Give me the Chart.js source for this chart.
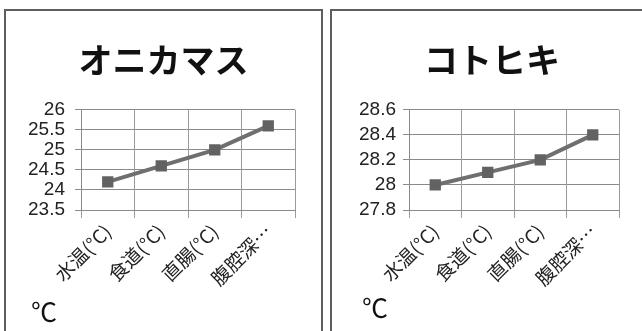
<!DOCTYPE html>
<html>
<head>
<meta charset="utf-8">
<script src="https://cdn.jsdelivr.net/npm/chart.js@4.4.0/dist/chart.umd.min.js"></script>
<style>
  body { margin: 0; width: 642px; height: 331px; overflow: hidden; background: #fff; }
  .panel { position: absolute; top: 9px; height: 340px; border: 2px solid #5e5e5e; box-sizing: border-box; }
  #panel1 { left: 4px; width: 319px; }
  #panel2 { left: 330px; width: 324px; }
  .chart-box { position: absolute; left: 0; top: 0; height: 320px; }
  #panel1 .chart-box { width: 315px; }
  #panel2 .chart-box { width: 320px; }
  .unit { position: absolute; font-family: "Noto Sans CJK JP"; font-size: 26px; line-height: 26px; color: #111; }
</style>
</head>
<body>
<div class="panel" id="panel1"><div class="chart-box"><canvas id="chartOnikamasu"></canvas></div></div>
<div class="panel" id="panel2"><div class="chart-box"><canvas id="chartKotohiki"></canvas></div></div>
<div class="unit" style="left:31px; top:298px;">℃</div>
<div class="unit" style="left:362px; top:294px;">℃</div>
<script>
// data
const categories = ['水温(°C)', '食道(°C)', '直腸(°C)', '腹腔深…'];
const onikamasuTemps = [24.2, 24.6, 25.0, 25.6];
const kotohikiTemps = [28.0, 28.1, 28.2, 28.4];
const onikamasuTicks = [23.5, 24, 24.5, 25, 25.5, 26];
const kotohikiTicks = [27.8, 28, 28.2, 28.4, 28.6];

function makeChart(id, title, values, ticks, yWidth, rightGap, labelPad) {
    const ctx = document.getElementById(id).getContext('2d');
    return new Chart(ctx, {
        type: 'line',
        data: {
            labels: categories,
            datasets: [{
                data: values,
                borderColor: '#6f6f6f',
                borderWidth: 4,
                pointStyle: 'rect',
                pointRadius: 8,
                pointBackgroundColor: '#626262',
                pointBorderWidth: 0,
                tension: 0
            }]
        },
        options: {
            responsive: true,
            maintainAspectRatio: false,
            animation: false,
            layout: { padding: 0 },
            plugins: {
                legend: { display: false },
                tooltip: { enabled: false },
                title: {
                    display: true,
                    text: title,
                    color: '#111',
                    font: { family: '"Noto Sans CJK JP"', size: 34, weight: 'bold' },
                    padding: { top: 29, bottom: 29 }
                }
            },
            scales: {
                y: {
                    min: ticks[0],
                    max: ticks[ticks.length - 1],
                    afterBuildTicks: scale => { scale.ticks = ticks.map(v => ({ value: v })); },
                    afterFit: scale => { scale.width = yWidth; },
                    border: { color: '#8a8a8a' },
                    grid: { color: '#8a8a8a', tickLength: 6 },
                    ticks: {
                        color: '#222',
                        autoSkip: false,
                        padding: labelPad,
                        font: { family: '"Liberation Sans"', size: 19 },
                        callback: v => String(Number(v.toFixed(1)))
                    }
                },
                // empty right axis: only reserves the blank space right of the plot,
                // so the title stays centred on the whole panel
                gap: {
                    position: 'right',
                    afterFit: scale => { scale.width = rightGap; },
                    grid: { display: false },
                    border: { display: false },
                    ticks: { display: false }
                },
                x: {
                    offset: true,
                    afterFit: scale => { scale.height = 121; },
                    border: { color: '#8a8a8a' },
                    grid: { offset: true, color: '#9a9a9a', tickLength: 8 },
                    ticks: {
                        color: '#222',
                        autoSkip: false,
                        maxRotation: 45,
                        minRotation: 45,
                        padding: 2,
                        font: { family: '"Noto Sans CJK JP"', size: 19 }
                    }
                }
            }
        }
    });
}

makeChart('chartOnikamasu', 'オニカマス', onikamasuTemps, onikamasuTicks, 75, 26, 10);
makeChart('chartKotohiki', 'コトヒキ', kotohikiTemps, kotohikiTicks, 77, 33, 7);
</script>
</body>
</html>
